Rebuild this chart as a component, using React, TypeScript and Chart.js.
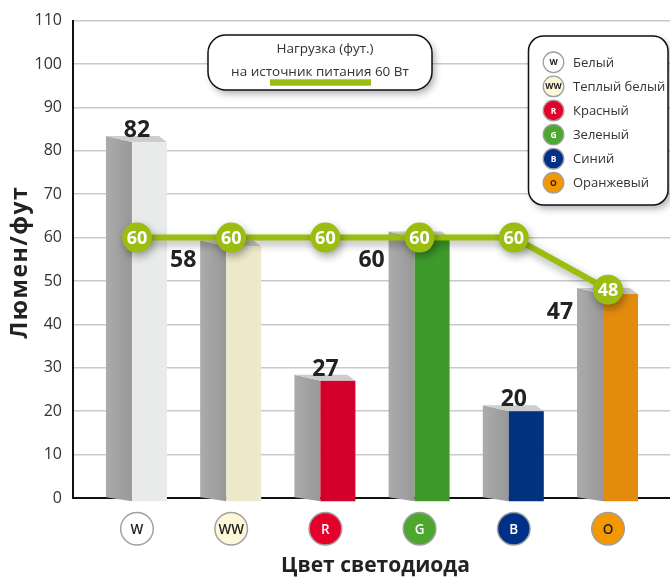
import React, { useEffect, useRef } from 'react';
import { Chart, registerables } from 'chart.js';

Chart.register(...registerables);

// ---- data ----
const categories = ['W', 'WW', 'R', 'G', 'B', 'O'];
const colorNames = ['Белый', 'Теплый белый', 'Красный', 'Зеленый', 'Синий', 'Оранжевый'];
const lumensPerWatt = [82, 58, 27, 60, 20, 47];
const loadPerWatt = [60, 60, 60, 60, 60, 48];
const yMin = 0;
const yMax = 110;
const yStep = 10;
const xMin = -0.679;
const xMax = 5.658;
const annotationLines = ['Нагрузка (фут.)', 'на источник питания 60 Вт'];
const yTitle = 'Люмен/фут';
const xTitle = 'Цвет светодиода';

// ---- styles ----
const frontColors = ['#e9ebeb', '#efe9cb', '#d3002b', '#3e9b2b', '#00337f', '#e38b0d'];
const iconColors = ['#ffffff', '#fdf8da', '#e4002b', '#4ea72e', '#003087', '#f39800'];
const iconTextColors = ['#222', '#222', '#fff', '#fff', '#fff', '#222'];
const lineColor = '#9bbd0f';
const FONT = '"Open Sans", "Noto Sans", sans-serif';

function roundRect(ctx: CanvasRenderingContext2D, x: number, y: number, w: number, h: number, r: number) {
  ctx.beginPath();
  ctx.moveTo(x + r, y);
  ctx.lineTo(x + w - r, y);
  ctx.arcTo(x + w, y, x + w, y + r, r);
  ctx.lineTo(x + w, y + h - r);
  ctx.arcTo(x + w, y + h, x + w - r, y + h, r);
  ctx.lineTo(x + r, y + h);
  ctx.arcTo(x, y + h, x, y + h - r, r);
  ctx.lineTo(x, y + r);
  ctx.arcTo(x, y, x + r, y, r);
  ctx.closePath();
}

const bars3d = {
  id: 'bars3d',
  beforeDatasetsDraw(chart: any) {
    const ctx: CanvasRenderingContext2D = chart.ctx;
    const meta = chart.getDatasetMeta(0);
    meta.data.forEach((el: any, i: number) => {
      const { x, y, base } = el.getProps(['x', 'y', 'base'], true);
      const L = x - 31;
      const M = x - 5;
      const R = x + 30;
      const d = 6;
      ctx.save();
      // side face
      const gs = ctx.createLinearGradient(L, 0, M, 0);
      gs.addColorStop(0, '#ababab');
      gs.addColorStop(1, '#989898');
      ctx.fillStyle = gs;
      ctx.beginPath();
      ctx.moveTo(L, y - d);
      ctx.lineTo(M, y);
      ctx.lineTo(M, base + 4);
      ctx.lineTo(L, base);
      ctx.closePath();
      ctx.fill();
      // top face
      ctx.fillStyle = '#cdcdcd';
      ctx.beginPath();
      ctx.moveTo(L, y - d);
      ctx.lineTo(R - 8, y - d);
      ctx.lineTo(R, y);
      ctx.lineTo(M, y);
      ctx.closePath();
      ctx.fill();
      // front face
      ctx.fillStyle = frontColors[i];
      ctx.fillRect(M, y, R - M, base + 4 - y);
      ctx.restore();
    });
  },
  beforeDatasetDraw(chart: any, args: any) {
    if (args.index === 1) {
      const ctx = chart.ctx;
      ctx.save();
      ctx.shadowColor = 'rgba(0,0,0,0.35)';
      ctx.shadowBlur = 8;
      ctx.shadowOffsetX = 2;
      ctx.shadowOffsetY = 4;
    }
  },
  afterDatasetDraw(chart: any, args: any) {
    if (args.index === 1) chart.ctx.restore();
  },
  afterDatasetsDraw(chart: any) {
    const ctx: CanvasRenderingContext2D = chart.ctx;
    const barMeta = chart.getDatasetMeta(0);
    const lineMeta = chart.getDatasetMeta(1);
    ctx.save();
    ctx.textAlign = 'center';
    ctx.textBaseline = 'alphabetic';
    ctx.font = `bold 23px ${FONT}`;
    ctx.fillStyle = '#222';
    lumensPerWatt.forEach((v, i) => {
      const bar = barMeta.data[i];
      const pt = lineMeta.data[i];
      if (Math.abs(v - loadPerWatt[i]) < 5) {
        ctx.fillText(String(v), bar.x - 48, pt.y + 21 + 8.2);
      } else {
        ctx.fillText(String(v), bar.x, bar.y - 5);
      }
    });
    ctx.font = `bold 18px ${FONT}`;
    ctx.fillStyle = '#fff';
    lineMeta.data.forEach((p: any, i: number) => {
      ctx.fillText(String(loadPerWatt[i]), p.x, p.y + 6.5);
    });
    ctx.restore();
  },
  afterDraw(chart: any) {
    const ctx: CanvasRenderingContext2D = chart.ctx;
    const xs = chart.scales.x;
    const area = chart.chartArea;
    ctx.save();
    // x category icons
    categories.forEach((c, i) => {
      const cx = xs.getPixelForValue(i);
      const cy = 528.7;
      ctx.beginPath();
      ctx.arc(cx, cy, 16.3, 0, Math.PI * 2);
      ctx.fillStyle = iconColors[i];
      ctx.fill();
      ctx.lineWidth = 1.5;
      ctx.strokeStyle = '#a0a0a0';
      ctx.stroke();
      ctx.fillStyle = iconTextColors[i];
      ctx.font = `600 13.5px ${FONT}`;
      ctx.textAlign = 'center';
      ctx.textBaseline = 'alphabetic';
      ctx.fillText(c, cx, cy + 4.8);
    });
    // x title
    ctx.fillStyle = '#222';
    ctx.font = `bold 21px ${FONT}`;
    ctx.textAlign = 'center';
    ctx.fillText(xTitle, (area.left + area.right) / 2 + 4, 572);
    // y title
    ctx.save();
    ctx.font = `bold 23px ${FONT}`;
    try { (ctx as any).letterSpacing = '1.5px'; } catch (e) {}
    ctx.translate(27, (area.top + area.bottom) / 2 + 3);
    ctx.rotate(-Math.PI / 2);
    ctx.fillText(yTitle, 0, 0);
    ctx.restore();

    // annotation box
    ctx.save();
    ctx.shadowColor = 'rgba(0,0,0,0.3)';
    ctx.shadowBlur = 7;
    ctx.shadowOffsetX = 3;
    ctx.shadowOffsetY = 4;
    roundRect(ctx, 208, 35, 224, 55, 18);
    ctx.fillStyle = '#fff';
    ctx.fill();
    ctx.restore();
    roundRect(ctx, 208, 35, 224, 55, 18);
    ctx.lineWidth = 1.5;
    ctx.strokeStyle = '#111';
    ctx.stroke();
    ctx.fillStyle = '#333';
    ctx.font = `13.5px ${FONT}`;
    ctx.textAlign = 'center';
    ctx.fillText(annotationLines[0], 325, 53);
    ctx.fillText(annotationLines[1], 320, 75.5);
    ctx.fillStyle = lineColor;
    ctx.fillRect(270, 79.3, 101, 6.4);

    // legend box
    ctx.save();
    ctx.shadowColor = 'rgba(0,0,0,0.3)';
    ctx.shadowBlur = 7;
    ctx.shadowOffsetX = 3;
    ctx.shadowOffsetY = 4;
    roundRect(ctx, 528.5, 36, 139.5, 169, 15);
    ctx.fillStyle = '#fff';
    ctx.fill();
    ctx.restore();
    roundRect(ctx, 528.5, 36, 139.5, 169, 15);
    ctx.lineWidth = 1.5;
    ctx.strokeStyle = '#111';
    ctx.stroke();
    colorNames.forEach((name, i) => {
      const cy = 62.3 + 24.1 * i;
      const cx = 553.5;
      ctx.beginPath();
      ctx.arc(cx, cy, 10.3, 0, Math.PI * 2);
      ctx.fillStyle = iconColors[i];
      ctx.fill();
      ctx.lineWidth = 1.3;
      ctx.strokeStyle = '#a0a0a0';
      ctx.stroke();
      ctx.fillStyle = iconTextColors[i];
      ctx.font = `bold 8.5px ${FONT}`;
      ctx.textAlign = 'center';
      ctx.fillText(categories[i], cx, cy + 3);
      ctx.fillStyle = '#333';
      ctx.font = `13px ${FONT}`;
      ctx.textAlign = 'left';
      ctx.fillText(name, 573, cy + 4.6);
    });
    ctx.restore();
  },
};

export default function App() {
  const canvasRef = useRef<HTMLCanvasElement | null>(null);

  useEffect(() => {
    document.body.style.margin = '0';
    document.body.style.overflow = 'hidden';
    const canvas = canvasRef.current;
    if (!canvas) return;
    const chart = new Chart(canvas, {
      type: 'bar',
      data: {
        datasets: [
          {
            type: 'bar',
            data: categories.map((_, i) => ({ x: i, y: lumensPerWatt[i] })),
            backgroundColor: 'rgba(0,0,0,0)',
            barThickness: 61,
            order: 1,
          } as any,
          {
            type: 'line',
            data: categories.map((_, i) => ({ x: i, y: loadPerWatt[i] })),
            borderColor: lineColor,
            borderWidth: 6,
            pointRadius: 15,
            pointBackgroundColor: lineColor,
            pointBorderWidth: 0,
            pointHoverRadius: 15,
            tension: 0,
            clip: false,
            order: 0,
          } as any,
        ],
      },
      options: {
        animation: false,
        responsive: true,
        maintainAspectRatio: false,
        events: [],
        layout: { autoPadding: false, padding: { top: 18, right: 0, left: 0, bottom: 0 } },
        plugins: { legend: { display: false }, tooltip: { enabled: false } },
        scales: {
          x: {
            type: 'linear',
            offset: false,
            bounds: 'data',
            min: xMin,
            max: xMax,
            ticks: { display: false },
            grid: { display: false, offset: false },
            border: { display: true, color: '#111', width: 2 },
            afterFit: (s: any) => { s.height = 80; },
          },
          y: {
            min: yMin,
            max: yMax,
            ticks: { stepSize: yStep, color: '#333', font: { family: FONT, size: 16 }, padding: 11 },
            grid: { color: '#c9c9c9', lineWidth: 1.5, drawTicks: false },
            border: { display: true, color: '#111', width: 2 },
            afterFit: (s: any) => { s.width = 73; },
          },
        },
      } as any,
      plugins: [bars3d],
    });
    return () => chart.destroy();
  }, []);

  return (
    <div style={{ width: 670, height: 578, position: 'relative' }}>
      <canvas ref={canvasRef} style={{ display: 'block' }} />
    </div>
  );
}
